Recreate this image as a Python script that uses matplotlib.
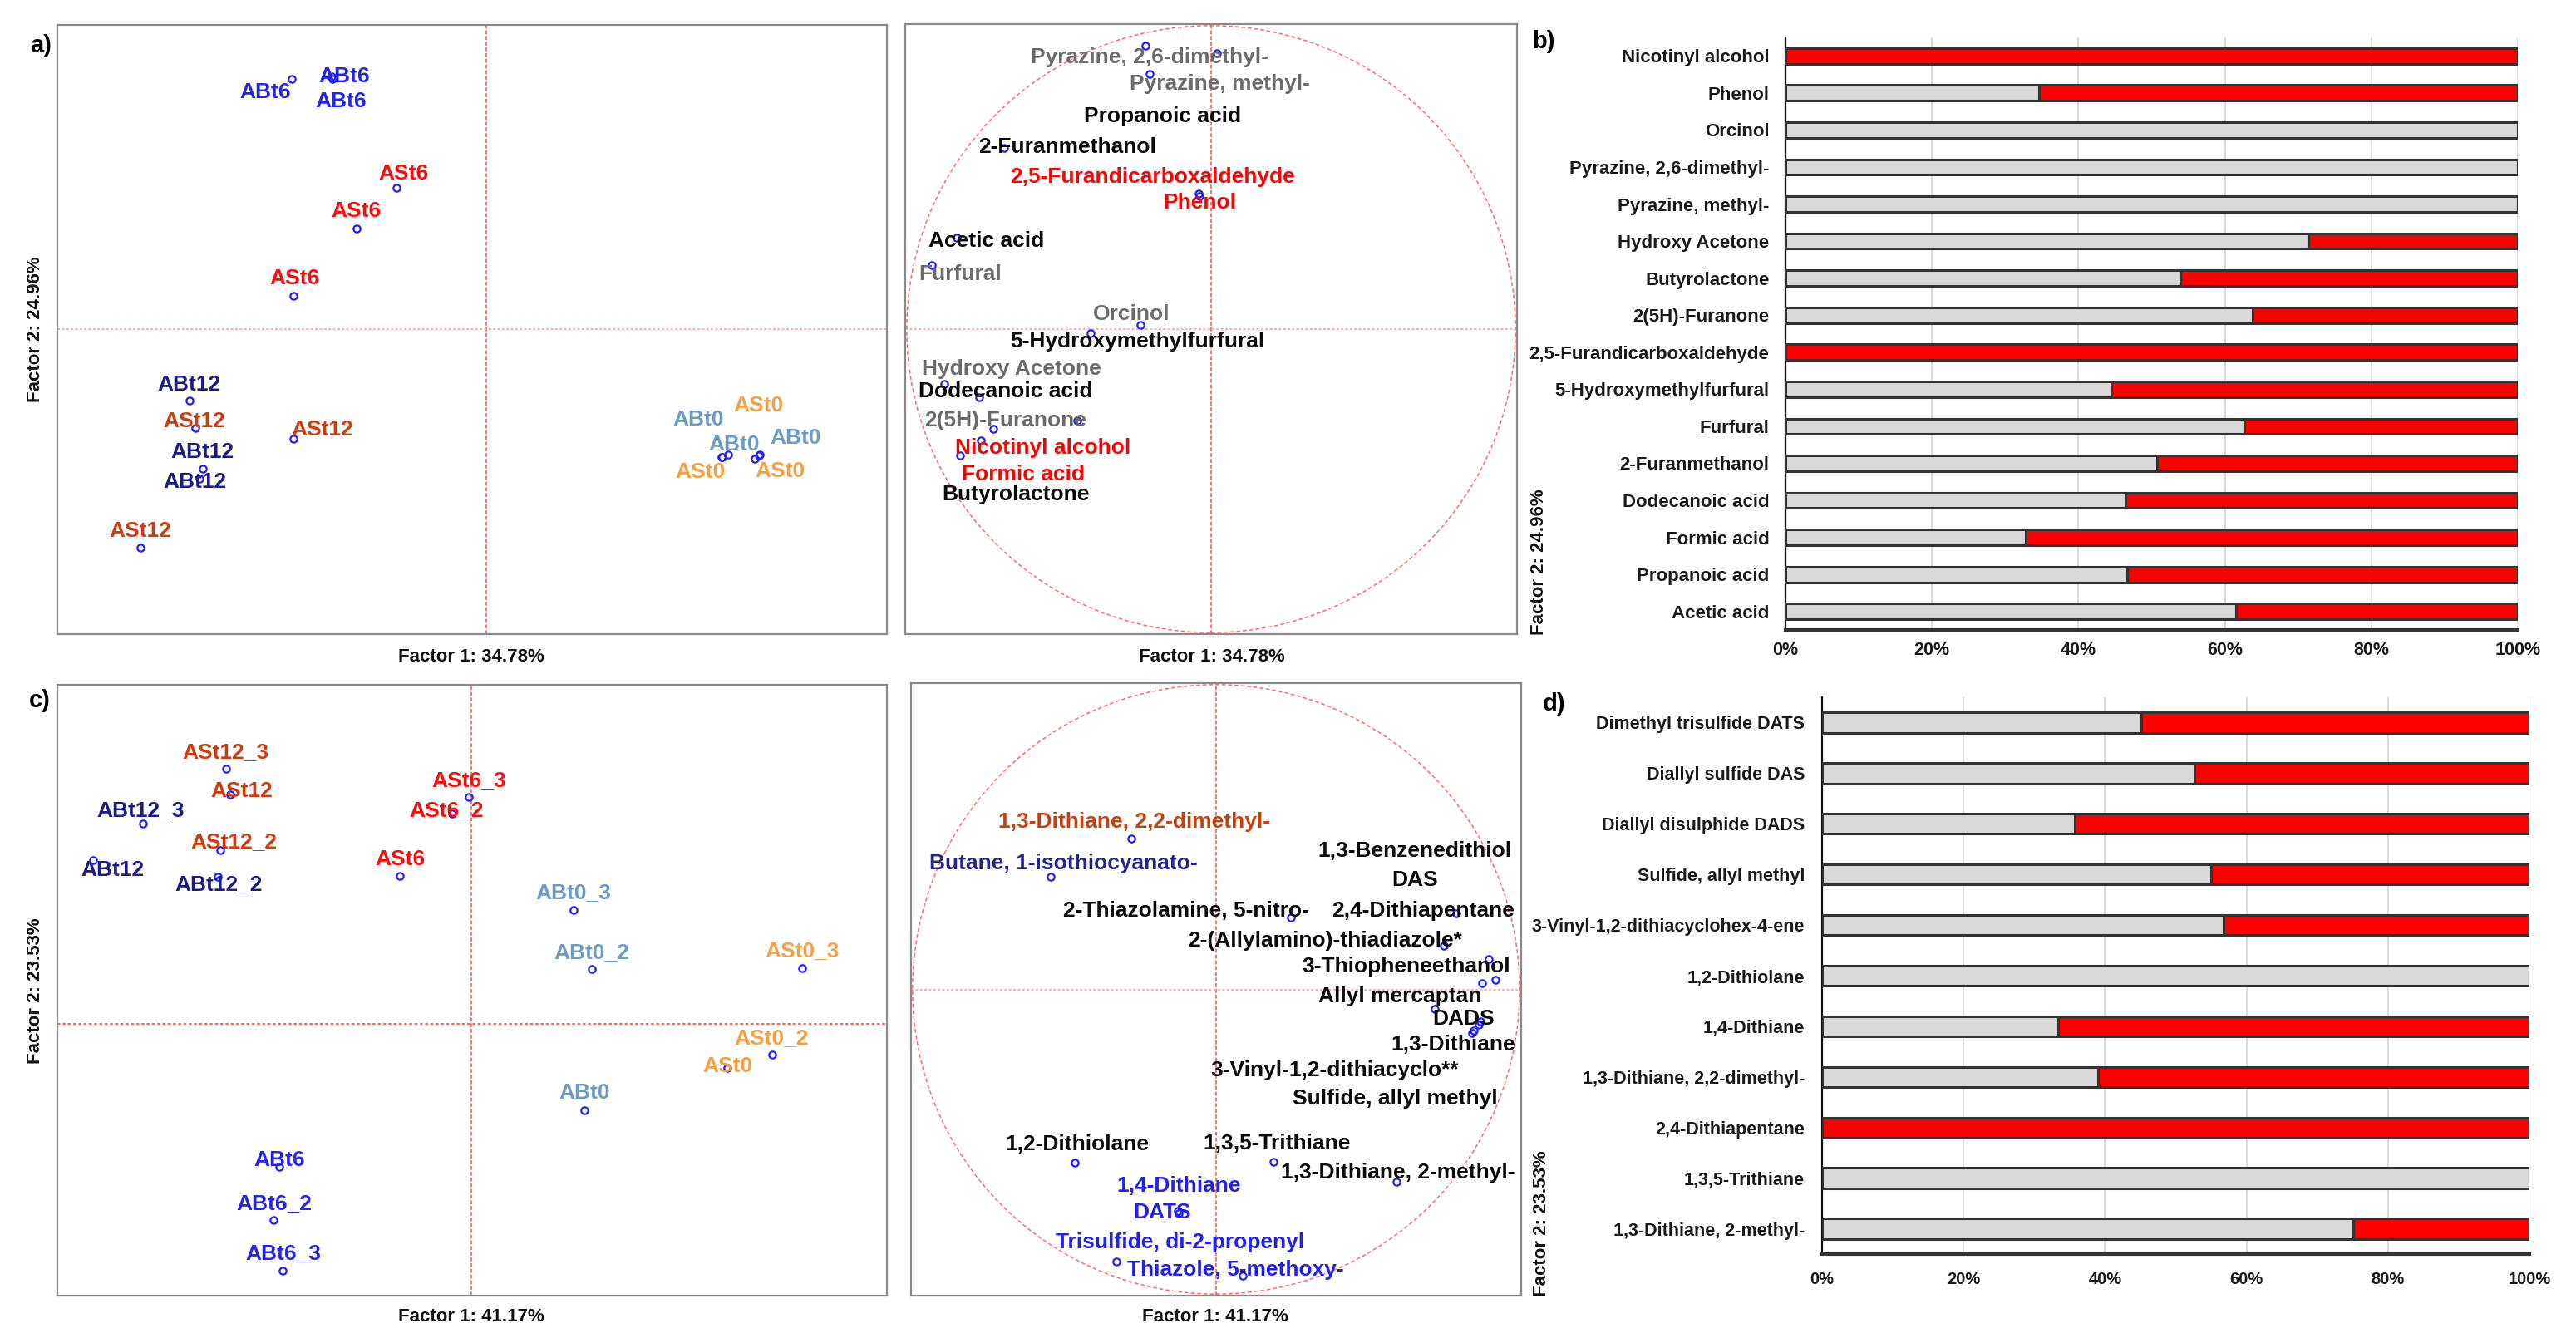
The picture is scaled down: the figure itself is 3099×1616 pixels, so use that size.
import matplotlib
matplotlib.use("Agg")
import matplotlib.pyplot as plt
from matplotlib.patches import Circle

plt.rcParams['font.family'] = ['Liberation Sans', 'DejaVu Sans']

# ---------------- DATA ----------------
# Panel a (observations, Factor 1 vs Factor 2)
a_obs_labels = ['ABt6', 'ABt6', 'ABt6', 'ASt6', 'ASt6', 'ASt6', 'ABt12', 'ASt12', 'ASt12',
                'ABt12', 'ABt12', 'ASt12', 'ABt0', 'ASt0', 'ABt0', 'ABt0', 'ASt0', 'ASt0']
a_obs_f1 = [-2.34, -1.86, -1.85, -1.08, -1.56, -2.32, -3.58, -3.51, -2.32,
            -3.42, -3.46, -4.17, 2.84, 3.29, 2.92, 3.30, 2.85, 3.24]
a_obs_f2 = [4.10, 4.14, 4.10, 2.31, 1.65, 0.54, -1.17, -1.63, -1.81,
            -2.30, -2.46, -3.59, -2.10, -2.08, -2.06, -2.06, -2.11, -2.13]

# Panel a (variables, correlation circle)
a_var_labels = ['Pyrazine, 2,6-dimethyl-', 'Pyrazine, methyl-', 'Propanoic acid', '2-Furanmethanol',
                '2,5-Furandicarboxaldehyde', 'Phenol', 'Acetic acid', 'Furfural', 'Orcinol',
                '5-Hydroxymethylfurfural', 'Hydroxy Acetone', 'Dodecanoic acid', '2(5H)-Furanone',
                'Butyrolactone', 'Nicotinyl alcohol', 'Formic acid']
a_var_f1 = [-0.215, -0.203, 0.018, -0.679, -0.042, -0.037, -0.837, -0.918, -0.233,
            -0.395, -0.878, -0.763, -0.439, -0.715, -0.756, -0.824]
a_var_f2 = [0.933, 0.840, 0.910, 0.597, 0.446, 0.439, 0.300, 0.211, 0.014,
            -0.013, -0.181, -0.225, -0.302, -0.328, -0.367, -0.416]
a_var_class = ['gray', 'gray', 'black', 'black', 'red', 'red', 'black', 'gray', 'gray',
               'black', 'gray', 'black', 'gray', 'black', 'red', 'red']

# Panel b (stacked percentage bars)
b_labels = ['Nicotinyl alcohol', 'Phenol', 'Orcinol', 'Pyrazine, 2,6-dimethyl-', 'Pyrazine, methyl-',
            'Hydroxy Acetone', 'Butyrolactone', '2(5H)-Furanone', '2,5-Furandicarboxaldehyde',
            '5-Hydroxymethylfurfural', 'Furfural', '2-Furanmethanol', 'Dodecanoic acid',
            'Formic acid', 'Propanoic acid', 'Acetic acid']
b_gray = [0, 34.6, 100, 100, 100, 71.4, 53.9, 63.8, 0, 44.5, 62.7, 50.7, 46.4, 32.8, 46.7, 61.5]
b_red = [100 - v for v in b_gray]

# Panel c (observations)
c_obs_labels = ['ASt12_3', 'ASt12', 'ABt12_3', 'ASt12_2', 'ABt12', 'ABt12_2', 'ASt6_3', 'ASt6_2',
                'ASt6', 'ABt0_3', 'ABt0_2', 'ASt0_3', 'ASt0_2', 'ASt0', 'ABt0', 'ABt6', 'ABt6_2', 'ABt6_3']
c_obs_f1 = [-2.96, -2.91, -3.96, -3.03, -4.56, -3.06, -0.03, -0.23, -0.86, 1.23, 1.45, 3.99,
            3.63, 3.09, 1.36, -2.31, -2.38, -2.27]
c_obs_f2 = [4.18, 3.76, 3.28, 2.84, 2.68, 2.41, 3.72, 3.44, 2.42, 1.86, 0.90, 0.91,
            -0.51, -0.72, -1.42, -2.34, -3.21, -4.04]

# Panel c (variables)
c_var_labels = ['1,3-Dithiane, 2,2-dimethyl-', 'Butane, 1-isothiocyanato-', '2-Thiazolamine, 5-nitro-',
                '2,4-Dithiapentane', '2-(Allylamino)-thiadiazole*', '1,3-Benzenedithiol', 'DAS',
                '3-Thiopheneethanol', 'Allyl mercaptan', 'DADS', '1,3-Dithiane',
                '3-Vinyl-1,2-dithiacyclo**', 'Sulfide, allyl methyl', '1,2-Dithiolane',
                '1,3,5-Trithiane', '1,3-Dithiane, 2-methyl-', '1,4-Dithiane', 'DATS',
                'Trisulfide, di-2-propenyl', 'Thiazole, 5-methoxy-']
c_var_f1 = [-0.278, -0.544, 0.247, 0.792, 0.751, 0.898, 0.921, 0.875, 0.721, 0.871, 0.843,
            0.864, 0.850, -0.465, 0.188, 0.595, -0.125, -0.122, -0.329, 0.088]
c_var_f2 = [0.495, 0.370, 0.236, 0.250, 0.144, 0.099, 0.031, 0.021, -0.064, -0.106, -0.144,
            -0.116, -0.134, -0.568, -0.565, -0.632, -0.728, -0.735, -0.893, -0.940]
c_var_class = ['brown', 'navy', 'black', 'black', 'black', 'black', 'black', 'black', 'black',
               'black', 'black', 'black', 'black', 'black', 'black', 'black', 'blue', 'blue',
               'blue', 'blue']

# Panel d (stacked percentage bars)
d_labels = ['Dimethyl trisulfide DATS', 'Diallyl sulfide DAS', 'Diallyl disulphide DADS',
            'Sulfide, allyl methyl', '3-Vinyl-1,2-dithiacyclohex-4-ene', '1,2-Dithiolane',
            '1,4-Dithiane', '1,3-Dithiane, 2,2-dimethyl-', '2,4-Dithiapentane', '1,3,5-Trithiane',
            '1,3-Dithiane, 2-methyl-']
d_gray = [45.1, 52.6, 35.7, 55.0, 56.7, 100, 33.4, 39.0, 0, 100, 75.1]
d_red = [100 - v for v in d_gray]

pct_ticks = [0, 20, 40, 60, 80, 100]
pct_labels = ['0%', '20%', '40%', '60%', '80%', '100%']

# ---------------- STYLE / LAYOUT ----------------
W, H = 3099, 1616
DPI = 100
group_colors = {'ABt6': '#2323f0', 'ASt6': '#ff0a0a', 'ABt12': '#1c1c86', 'ASt12': '#cf3c0c',
                'ABt0': '#6a9cc6', 'ASt0': '#f5a142'}
class_colors = {'gray': '#6b6b6b', 'black': '#0a0a0a', 'red': '#ff0000',
                'brown': '#c8400e', 'navy': '#26268a', 'blue': '#2020f0'}

# label offsets (pixels, right/up) relative to each point
a_obs_off = [(-32, -16), (15, 0), (10, -26.5), (8, 17), (-1, 21), (1, 21), (0, 19), (-1, 8),
             (34, 11), (0, 20), (-5.5, -4), (0, 20), (-28, 45), (-1, 60), (7, 12), (43, 20),
             (-27, -18), (30, -15)]
a_var_off = [(4.5, -14), (85, -12), (-65, -76), (76, 1), (-55, 20), (0, -8), (36, -4), (34, -11),
             (-11, 13), (56, -10), (81, 18), (32, 7), (-87, 0.5), (27, -79), (74, -9), (76, -23)]
c_obs_off = [(0, 20), (14, 4), (-3, 16), (17, 10), (23, -12), (1, -9), (0, 19), (-7, 4), (0, 20),
             (0, 21), (0, 20), (0, 21), (-1, 20), (0, 2), (0, 21), (0, 8), (0, 20), (0, 21)]
c_var_off = [(3.5, 20), (15, 16), (-126, 8), (-40, 3), (-143, 6), (-89, 130), (-97, 120),
             (-91, 20), (-42, 15), (-21, 3), (-23, -14), (-173, -55), (-95, -82), (2.5, 22),
             (4, 22), (1.5, 11), (1, 30), (-20, 1), (77, 23), (-9, 7)]

fig = plt.figure(figsize=(W / DPI, H / DPI), dpi=DPI)
fig.patch.set_facecolor('white')


def box(x0, y0, x1, y1):
    return [x0 / W, 1 - y1 / H, (x1 - x0) / W, (y1 - y0) / H]


PT = 72.0 / DPI
LABEL_FS = 19


def style_pca(ax):
    ax.set_xticks([])
    ax.set_yticks([])
    for s in ax.spines.values():
        s.set_color('#8a8a8a')
        s.set_linewidth(1.6)


def scatter_obs(ax, labels, xs, ys, offs):
    ax.plot(xs, ys, 'o', ms=6, mfc='none', mec='#2020ff', mew=1.6, zorder=3)
    for lab, x, y, (dx, dy) in zip(labels, xs, ys, offs):
        ax.annotate(lab, (x, y), xytext=(dx * PT, dy * PT), textcoords='offset points',
                    ha='center', va='center', fontsize=LABEL_FS, fontweight='bold',
                    color=group_colors[lab.split('_')[0]], zorder=4)


def circle_vars(ax, labels, xs, ys, cls, offs):
    ax.add_patch(Circle((0, 0), 1.0, fill=False, ec='#ff6b6b', lw=1.1, ls=(0, (3, 2)), zorder=1))
    ax.axvline(0, color='#ff4d4d', lw=1.1, ls=(0, (3, 1.5)), zorder=1)
    ax.axhline(0, color='#ff9a9a', lw=1.1, ls=(0, (2, 1.5)), zorder=1)
    ax.plot(xs, ys, 'o', ms=6, mfc='none', mec='#2020ff', mew=1.6, zorder=3)
    for lab, x, y, c, (dx, dy) in zip(labels, xs, ys, cls, offs):
        ax.annotate(lab, (x, y), xytext=(dx * PT, dy * PT), textcoords='offset points',
                    ha='center', va='center', fontsize=LABEL_FS, fontweight='bold',
                    color=class_colors[c], zorder=4)
    ax.set_xlim(-1.005, 1.005)
    ax.set_ylim(-1.005, 1.005)


def stacked(ax, labels, gray, red, h, fs_y, fs_x, pady, padx):
    pos = list(range(len(labels)))
    ax.barh(pos, gray, height=h, color='#d9d9d9', edgecolor='#333333', lw=2.2, zorder=3)
    ax.barh(pos, red, left=gray, height=h, color='#ff0000', edgecolor='#333333', lw=2.2, zorder=3)
    ax.set_ylim(len(labels) - 0.5, -0.5)
    ax.set_xlim(0, 100)
    ax.set_yticks(pos)
    ax.set_yticklabels(labels, fontsize=fs_y, fontweight='bold', color='#1a1a1a')
    ax.set_xticks(pct_ticks)
    ax.set_xticklabels(pct_labels, fontsize=fs_x, fontweight='bold', color='#1a1a1a')
    ax.tick_params(axis='both', length=0)
    ax.tick_params(axis='y', pad=pady)
    ax.tick_params(axis='x', pad=padx)
    ax.grid(axis='x', color='#d4d4d4', lw=1.2, zorder=0)
    ax.set_axisbelow(True)
    for s in ['top', 'right']:
        ax.spines[s].set_visible(False)
    ax.spines['left'].set_color('#111111')
    ax.spines['left'].set_linewidth(1.6)
    ax.spines['bottom'].set_color('#333333')
    ax.spines['bottom'].set_linewidth(3)


# ---- panel a left
ax1 = fig.add_axes(box(69, 30, 1067, 763))
style_pca(ax1)
ax1.axvline(0, color='#ff4d4d', lw=1.1, ls=(0, (3, 1.5)), zorder=1)
ax1.axhline(0, color='#ff9a9a', lw=1.1, ls=(0, (2, 1.5)), zorder=1)
scatter_obs(ax1, a_obs_labels, a_obs_f1, a_obs_f2, a_obs_off)
ax1.set_xlim(-5.17, 4.83)
ax1.set_ylim(-5.01, 4.99)

# ---- panel a right
ax2 = fig.add_axes(box(1089, 29, 1825, 763))
style_pca(ax2)
circle_vars(ax2, a_var_labels, a_var_f1, a_var_f2, a_var_class, a_var_off)

# ---- panel b
ax3 = fig.add_axes(box(2148, 45, 3029, 758))
stacked(ax3, b_labels, b_gray, b_red, 0.42, 16, 15.5, 14, 10)

# ---- panel c left
ax4 = fig.add_axes(box(69, 824, 1067, 1559))
style_pca(ax4)
ax4.axvline(0, color='#ff4d4d', lw=1.1, ls=(0, (3, 1.5)), zorder=1)
ax4.axhline(0, color='#ff5555', lw=1.3, ls=(0, (2, 1.5)), zorder=1)
scatter_obs(ax4, c_obs_labels, c_obs_f1, c_obs_f2, c_obs_off)
ax4.set_xlim(-4.99, 5.01)
ax4.set_ylim(-4.45, 5.55)

# ---- panel c right
ax5 = fig.add_axes(box(1096, 822, 1830, 1559))
style_pca(ax5)
circle_vars(ax5, c_var_labels, c_var_f1, c_var_f2, c_var_class, c_var_off)

# ---- panel d
ax6 = fig.add_axes(box(2192, 839, 3043, 1509))
stacked(ax6, d_labels, d_gray, d_red, 0.40, 15.5, 14.5, 15, 15)

# ---- texts
def ftext(x, y, s, **kw):
    fig.text(x / W, 1 - y / H, s, ha='center', va='center', fontweight='bold', **kw)


ftext(49, 55, 'a)', fontsize=21)
ftext(1857, 50, 'b)', fontsize=21)
ftext(48, 843, 'c)', fontsize=21)
ftext(1870, 847, 'd)', fontsize=21)

ftext(567, 790, 'Factor 1: 34.78%', fontsize=16, color='#111111')
ftext(1458, 790, 'Factor 1: 34.78%', fontsize=16, color='#111111')
ftext(567, 1585, 'Factor 1: 41.17%', fontsize=16, color='#111111')
ftext(1462, 1585, 'Factor 1: 41.17%', fontsize=16, color='#111111')
ftext(43, 396, 'Factor 2: 24.96%', fontsize=16, rotation=90, color='#111111')
ftext(43, 1192, 'Factor 2: 23.53%', fontsize=16, rotation=90, color='#111111')
ftext(1852, 676, 'Factor 2: 24.96%', fontsize=16, rotation=90, color='#111111')
ftext(1854, 1472, 'Factor 2: 23.53%', fontsize=16, rotation=90, color='#111111')

fig.savefig('out.png', dpi=DPI, facecolor='white')
